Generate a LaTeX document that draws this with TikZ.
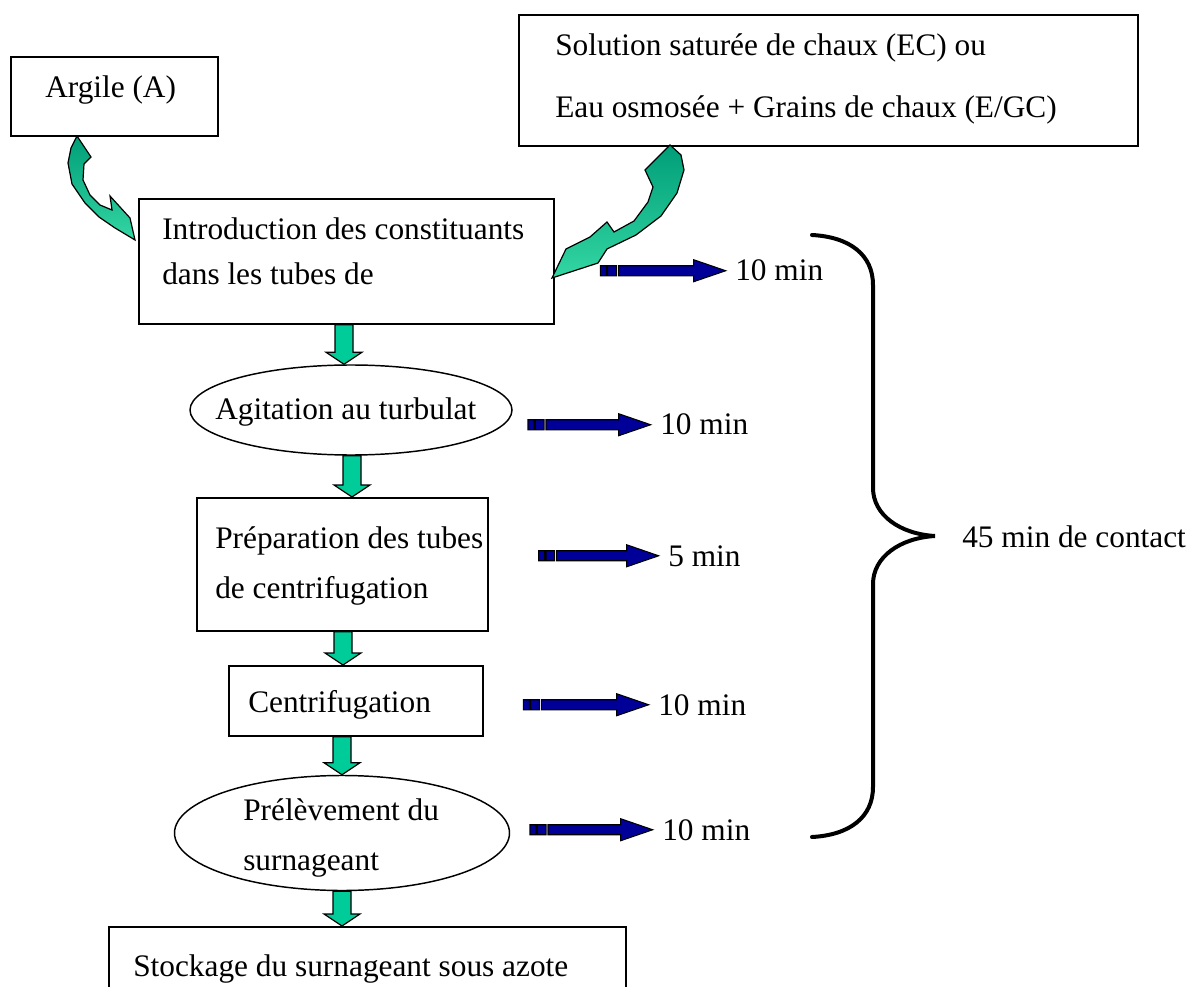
\documentclass[tikz,border=0pt]{standalone}
\usepackage{fontspec}
\setmainfont{Liberation Serif}
\usetikzlibrary{shapes.geometric,calc}
\definecolor{gdark}{HTML}{009E78}
\definecolor{glight}{HTML}{33D6A3}
\definecolor{gflat}{HTML}{00CC99}
\definecolor{navyb}{HTML}{000099}
\tikzset{
  box/.style={draw=black, line width=1.3pt, rectangle, inner sep=0pt, anchor=north west},
  oval/.style={draw=black, line width=1.1pt, ellipse, inner sep=0pt},
  txt/.style={inner sep=0pt, anchor=base west, font=\fontsize{23.5}{28}\selectfont},
  gfill/.style={fill=gflat, draw=black, line width=0.9pt, line join=miter},
  curved/.style={top color=gdark, bottom color=glight, draw=black, line width=0.9pt},
  bluef/.style={fill=navyb, draw=black, line width=0.8pt},
  curly/.style={draw=black, line width=3pt, line cap=round},
}
\newcommand\gdown[3]{%
  \filldraw[gfill] let \p1=(#1.south), \p2=(#2.north), \p3=(#3,0) in
    (\x3-6.75pt,\y1) -- (\x3+6.75pt,\y1) -- (\x3+6.75pt,\y2+9pt) -- (\x3+13.5pt,\y2+9pt)
    -- (\x3,\y2) -- (\x3-13.5pt,\y2+9pt) -- (\x3-6.75pt,\y2+9pt) -- cycle;}
\newcommand\bluearrow[2]{%
  \path let \p1=($(#1.west)+(-7pt,0)$) in
    [bluef] (\x1,\y1) -- (\x1-24pt,\y1+8.25pt) -- (\x1-24pt,\y1+3.75pt) -- (\x1-#2+13.5pt,\y1+3.75pt)
      -- (\x1-#2+13.5pt,\y1-3.75pt) -- (\x1-24pt,\y1-3.75pt) -- (\x1-24pt,\y1-8.25pt) -- cycle
    (\x1-#2+12pt,\y1+3.75pt) rectangle (\x1-#2+5.5pt,\y1-3.75pt)
    (\x1-#2+4.5pt,\y1+3.75pt) rectangle (\x1-#2,\y1-3.75pt);}
\begin{document}
\begin{tikzpicture}[x=0.75pt,y=-0.75pt]
\useasboundingbox (0,0) rectangle (1189,987);
\clip (0,0) rectangle (1189,987);

% boxes
\node[box, minimum width=207*0.75pt, minimum height=79*0.75pt] (argile) at (10,56) {};
\node[txt] (targile) at (45,98) {Argile (A)};

\node[box, minimum width=619*0.75pt, minimum height=131*0.75pt] (sol) at (518,14) {};
\node[txt] (tsol1) at (555,56) {Solution saturée de chaux (EC) ou};
\node[txt] (tsol2) at (555,118) {Eau osmosée + Grains de chaux (E/GC)};

\node[box, minimum width=415*0.75pt, minimum height=125*0.75pt] (intro) at (138,198) {};
\node[txt] (tintro1) at (162,240) {Introduction des constituants};
\node[txt] (tintro2) at (162,285) {dans les tubes de};

\node[oval, minimum width=322*0.75pt, minimum height=90*0.75pt] (agit) at (351,410) {};
\node[txt] (tagit) at (215,420) {Agitation au turbulat};

\node[box, minimum width=291*0.75pt, minimum height=133*0.75pt] (prep) at (196,497) {};
\node[txt] (tprep1) at (215,548) {Préparation des tubes};
\node[txt] (tprep2) at (215,598) {de centrifugation};

\node[box, minimum width=254*0.75pt, minimum height=70*0.75pt] (centri) at (228,665) {};
\node[txt] (tcentri) at (248,712) {Centrifugation};

\node[oval, minimum width=335*0.75pt, minimum height=115*0.75pt] (prel) at (342,833) {};
\node[txt] (tprel1) at (243,820) {Prélèvement du};
\node[txt] (tprel2) at (243,870) {surnageant};

\node[box, minimum width=517*0.75pt, minimum height=90*0.75pt] (stock) at (108,926) {};
\node[txt] (tstock) at (133,976) {Stockage du surnageant sous azote};

% green down arrows
\gdown{intro}{agit}{344}
\gdown{agit}{prep}{352}
\gdown{prep}{centri}{343}
\gdown{centri}{prel}{342}
\gdown{prel}{stock}{342}

% curved green arrows
\shade[curved] (77,136) -- (91,157) -- (84,164) -- (83,180) -- (90,195) -- (100,205) -- (112,210)
  -- (110,196) -- (130,218) -- (135,240) -- (115,228) -- (99,217) -- (85,203) -- (72,184)
  -- (68,163) -- (71,148) -- cycle;
\shade[curved] (670,145) -- (681,155) -- (684,170) -- (677,193) -- (661,216) -- (636,235)
  -- (607,249) -- (598,263) -- (552,278) -- (566,249) -- (590,237) -- (607,222) -- (614,232)
  -- (634,221) -- (648,202) -- (653,187) -- (645,170) -- cycle;

% time labels and blue arrows
\node[txt] (m1) at (735,281) {10 min};
\node[txt] (m2) at (660,435) {10 min};
\node[txt] (m3) at (668,566) {5 min};
\node[txt] (m4) at (658,715) {10 min};
\node[txt] (m5) at (662,840) {10 min};
\bluearrow{m1}{94pt}
\bluearrow{m2}{92pt}
\bluearrow{m3}{90pt}
\bluearrow{m4}{94pt}
\bluearrow{m5}{92pt}

% brace
\draw[curly] (812,235) .. controls (850,237) and (873,255) .. (873,285) -- (873,488)
  .. controls (873,515) and (900,534) .. (935,536)
  .. controls (900,538) and (873,557) .. (873,584) -- (873,787)
  .. controls (873,817) and (850,835) .. (812,837);
\node[txt] (contact) at (962,547) {45 min de contact};
\end{tikzpicture}
\end{document}
